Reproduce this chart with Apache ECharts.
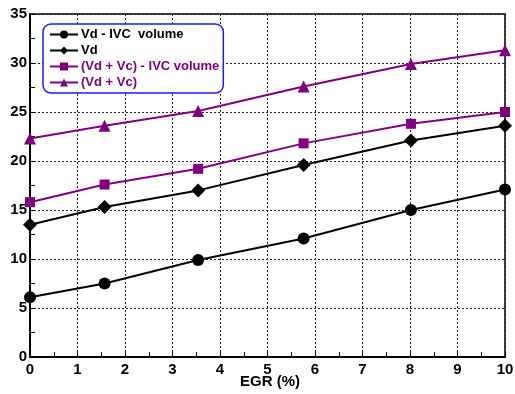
<!DOCTYPE html>
<html><head><meta charset="utf-8">
<script src="https://cdn.jsdelivr.net/npm/echarts@6/dist/echarts.min.js"></script>
<style>html,body{margin:0;padding:0;background:#fff}#c{width:515px;height:394px}</style>
</head><body><div id="c"></div>
<script>
const egr = [0, 1.57, 3.54, 5.76, 8.02, 10];
const seriesNames = ['Vd - IVC  volume', 'Vd', '(Vd + Vc) - IVC volume', '(Vd + Vc)'];
const vdIvc = [6.1, 7.5, 9.9, 12.1, 15.0, 17.1];
const vd = [13.5, 15.3, 17.0, 19.6, 22.1, 23.6];
const vdVcIvc = [15.8, 17.6, 19.2, 21.8, 23.8, 25.0];
const vdVc = [22.3, 23.6, 25.1, 27.6, 29.9, 31.3];
const xTicks = [0,1,2,3,4,5,6,7,8,9,10];
const yTicks = [0,5,10,15,20,25,30,35];
const xAxisTitle = 'EGR (%)';

const black = '#000000', purple = '#800080';
const font = '"Liberation Sans", Arial, sans-serif';
const vals = [vdIvc, vd, vdVcIvc, vdVc];
const colors = [black, black, purple, purple];
const symbols = ['circle', 'diamond', 'rect', 'triangle'];
const sizes = [12, 14, 10, 12];

const chart = echarts.init(document.getElementById('c'));
chart.setOption({
  animation: false,
  title: {text: xAxisTitle, left: 270, top: 374, textAlign: 'center', padding: 0,
    textStyle: {fontFamily: font, fontWeight: 'bold', fontSize: 15, color: '#000'}},
  grid: {left: 30, right: 10, top: 14, bottom: 37, outerBoundsMode: 'none', containLabel: false,
    show: true, borderColor: '#000', borderWidth: 1.5},
  legend: {
    orient: 'vertical', left: 43, top: 24, itemWidth: 28, itemHeight: 10, itemGap: 3,
    padding: [4, 4, 4, 6],
    borderColor: '#1a1aff', borderWidth: 1.5, borderRadius: 8, backgroundColor: '#fff',
    data: seriesNames.map((n, i) => ({name: n, textStyle: {color: colors[i]}})),
    textStyle: {fontFamily: font, fontWeight: 'bold', fontSize: 13, padding: [0, 0, 0, -2]}
  },
  xAxis: {
    type: 'value', min: 0, max: 10, interval: 1,
    axisLine: {lineStyle: {color: '#000', width: 2}},
    axisTick: {show: true, inside: true, length: 5, lineStyle: {color: '#000'}},
    minorTick: {show: true, splitNumber: 2, length: 5, lineStyle: {color: '#000'}},
    axisLabel: {fontFamily: font, fontWeight: 'bold', fontSize: 15, color: '#000', margin: 5,
      formatter: v => xTicks.includes(v) ? String(v) : ''},
    splitLine: {show: true, lineStyle: {color: '#222', type: [2, 2], width: 1}}
  },
  yAxis: {
    type: 'value', min: 0, max: 35, interval: 5,
    axisLine: {show: true, lineStyle: {color: '#000', width: 2}},
    axisTick: {show: true, inside: true, length: 5, lineStyle: {color: '#000'}},
    minorTick: {show: true, splitNumber: 2, length: 5, lineStyle: {color: '#000'}},
    axisLabel: {fontFamily: font, fontWeight: 'bold', fontSize: 15, color: '#000', margin: 3,
      formatter: v => yTicks.includes(v) ? String(v) : ''},
    splitLine: {show: true, lineStyle: {color: '#222', type: [2, 2], width: 1}}
  },
  series: seriesNames.map((n, i) => ({
    name: n, type: 'line', data: egr.map((x, j) => [x, vals[i][j]]),
    symbol: symbols[i], symbolSize: sizes[i], showAllSymbol: true,
    lineStyle: {color: colors[i], width: 2}, itemStyle: {color: colors[i]},
    clip: false, z: 3
  }))
});
</script></body></html>
